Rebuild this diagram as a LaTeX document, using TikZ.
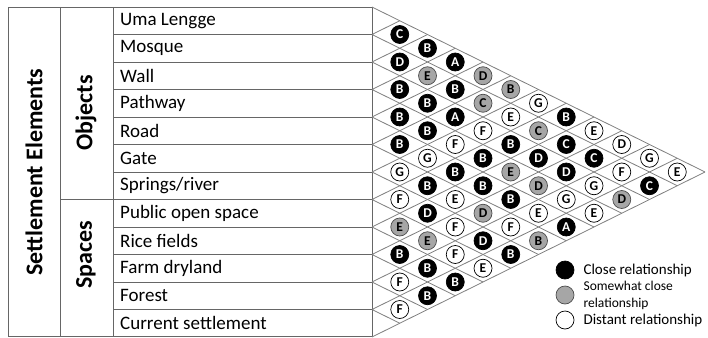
\documentclass[tikz,border=0pt]{standalone}
\usepackage{fontspec}
\setmainfont{Carlito}
\usetikzlibrary{calc}
\usetikzlibrary{positioning}

\begin{document}
\begin{tikzpicture}[
		x=1pt, y=-1pt,
		frame/.style={draw=black!60, line width=0.9pt},
		grid/.style={draw=black!50, line width=0.8pt},
		item/.style={anchor=west, inner sep=0pt, font=\fontsize{19}{22}\selectfont},
		group/.style={rotate=90, inner sep=0pt, font=\bfseries\fontsize{24}{28}\selectfont},
		rel/.style={circle, draw=black, line width=0.7pt, minimum size=18pt, inner sep=0pt, font=\bfseries\fontsize{13.5}{15}\selectfont},
		relclose/.style={rel, fill=black, text=white},
		relsome/.style={rel, fill=black!35, draw=black!70},
		reldist/.style={rel, fill=white},
		key/.style={anchor=west, inner sep=0pt, font=\fontsize{15}{17}\selectfont}
		]
		\useasboundingbox (0,0) rectangle (708,337);
		
		% Left edge of the matrix, row height, cell width
		\def\xl{372}
		\def\yt{7}
		\def\rh{27.5}
		\def\cw{27.75}
		
		% Table frame
		\draw[frame] (8,\yt) rectangle (\xl,336.5);
		\draw[frame] (60,\yt) -- (60,336.5);
		\draw[frame] (113,\yt) -- (113,336.5);
		\draw[frame] (60,{\yt+7*\rh}) -- (113,{\yt+7*\rh});
		\foreach \k in {1,...,11}
			\draw[frame] (113,{\yt+\k*\rh}) -- (\xl,{\yt+\k*\rh});
		
		% Group labels
		\node[group] (se)  at (34,172) {Settlement Elements};
		\node[group] (obj) at (86,113) {Objects};
		\node[group] (spc) at (86,255) {Spaces};
		
		% Row labels
		\foreach \k/\name in {1/Uma Lengge, 2/Mosque, 3/Wall, 4/Pathway, 5/Road, 6/Gate,
			7/{Springs/river}, 8/Public open space, 9/Rice fields, 10/Farm dryland,
			11/Forest, 12/Current settlement}
			\node[item] (e\k) at (120,{\yt+(\k-0.5)*\rh}) {\name};
		
		% Matrix lines
		\foreach \k in {0,...,12}{
			\coordinate (L\k) at (\xl,{\yt+\k*\rh});
			\coordinate (U\k) at ({\xl+\k*\cw},{\yt+\k*\rh/2});
			\coordinate (D\k) at ({\xl+(12-\k)*\cw},{172+\k*\rh/2});
		}
		\foreach \k in {0,...,12}
			\draw[grid] (L\k) -- (U\k) (L\k) -- (D\k);
		
		% Relations (row i with row j)
		\foreach \i/\j/\t/\s in {
			1/2/C/relclose, 1/3/B/relclose, 1/4/A/relclose, 1/5/D/relsome, 1/6/B/relsome,
			1/7/G/reldist, 1/8/B/relclose, 1/9/E/reldist, 1/10/D/reldist, 1/11/G/reldist, 1/12/E/reldist,
			2/3/D/relclose, 2/4/E/relsome, 2/5/B/relclose, 2/6/C/relsome, 2/7/E/reldist,
			2/8/C/relsome, 2/9/C/relclose, 2/10/C/relclose, 2/11/F/reldist, 2/12/C/relclose,
			3/4/B/relclose, 3/5/B/relclose, 3/6/A/relclose, 3/7/F/reldist, 3/8/B/relclose,
			3/9/D/relclose, 3/10/D/relclose, 3/11/G/reldist, 3/12/D/relsome,
			4/5/B/relclose, 4/6/B/relclose, 4/7/F/reldist, 4/8/B/relclose, 4/9/E/relsome,
			4/10/D/relsome, 4/11/G/reldist, 4/12/E/reldist,
			5/6/B/relclose, 5/7/G/reldist, 5/8/B/relclose, 5/9/B/relclose, 5/10/B/relclose,
			5/11/E/reldist, 5/12/A/relclose,
			6/7/G/reldist, 6/8/B/relclose, 6/9/E/reldist, 6/10/D/relsome, 6/11/F/reldist, 6/12/B/relsome,
			7/8/F/reldist, 7/9/D/relclose, 7/10/F/reldist, 7/11/D/relclose, 7/12/B/relclose,
			8/9/E/relsome, 8/10/E/relsome, 8/11/F/reldist, 8/12/E/reldist,
			9/10/B/relclose, 9/11/B/relclose, 9/12/B/relclose,
			10/11/F/reldist, 10/12/B/relclose,
			11/12/F/reldist}
			\node[\s] (r\i-\j) at ({\xl+(\j-\i)*\cw},{\yt+(\i+\j-1)*\rh/2}) {\t};
		
		% Legend
		\node[relclose] (kc) at (565,270) {};
		\node[relsome]  (ks) at (565,295) {};
		\node[reldist]  (kd) at (565,320) {};
		\node[key, right=9pt of kc] (tc) {Close relationship};
		\node[key, right=9pt of ks, align=left, font=\fontsize{13.5}{17}\selectfont] (ts) {Somewhat close\\relationship};
		\node[key, right=9pt of kd] (td) {Distant relationship};
		
	\end{tikzpicture}
\end{document}
